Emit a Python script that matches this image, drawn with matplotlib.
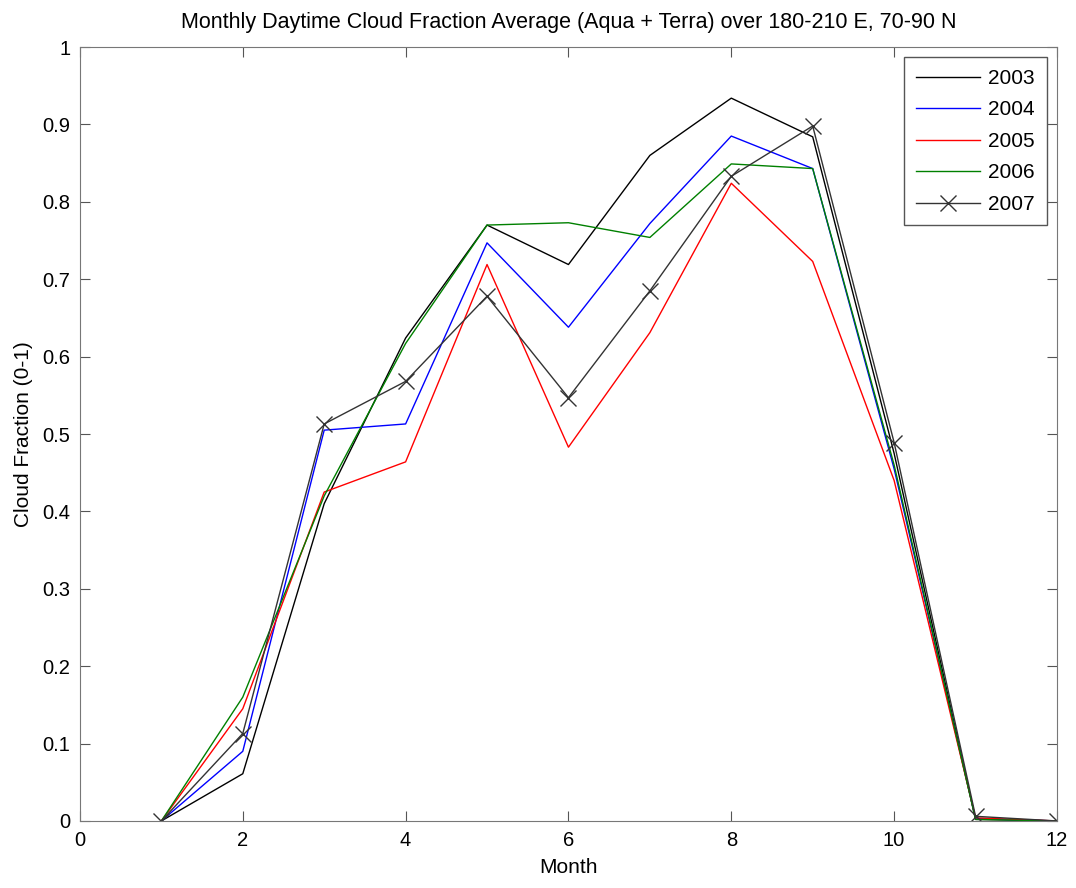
import matplotlib
matplotlib.use("Agg")
import matplotlib.pyplot as plt

plt.rcParams["font.family"] = ["Liberation Sans", "DejaVu Sans"]

# monthly cloud fraction
months = list(range(1, 13))
cf_2003 = [0.0, 0.061, 0.410, 0.624, 0.770, 0.719, 0.860, 0.934, 0.884, 0.475, 0.002, 0.0]
cf_2004 = [0.0, 0.090, 0.505, 0.513, 0.747, 0.638, 0.772, 0.885, 0.843, 0.455, 0.003, 0.0]
cf_2005 = [0.0, 0.145, 0.425, 0.464, 0.719, 0.483, 0.631, 0.824, 0.723, 0.440, 0.004, 0.0]
cf_2006 = [0.0, 0.160, 0.420, 0.617, 0.770, 0.773, 0.754, 0.849, 0.843, 0.460, 0.002, 0.0]
cf_2007 = [0.0, 0.113, 0.513, 0.568, 0.678, 0.547, 0.685, 0.833, 0.898, 0.489, 0.006, 0.0]

fig = plt.figure(figsize=(10.76, 8.88), dpi=100)
ax = fig.add_axes([0.0743, 0.0755, 0.9080, 0.8715])

ax.plot(months, cf_2003, color="black", lw=1.0, label="2003")
ax.plot(months, cf_2004, color="blue", lw=1.0, label="2004")
ax.plot(months, cf_2005, color="red", lw=1.0, label="2005")
ax.plot(months, cf_2006, color="#008000", lw=1.0, label="2006")
ax.plot(months, cf_2007, color="#333333", lw=1.0, marker="x", ms=11, mew=1.0, label="2007")

ax.set_xlim(0, 12)
ax.set_ylim(0, 1)
ax.set_xticks(range(0, 13, 2))
ax.set_yticks([i / 10 for i in range(11)])
ax.set_yticklabels(["0", "0.1", "0.2", "0.3", "0.4", "0.5", "0.6", "0.7", "0.8", "0.9", "1"])
ax.tick_params(direction="in", length=7, top=True, right=True, labelsize=14.5,
               color="#555555", pad=7)
for s in ax.spines.values():
    s.set_color("#777777")

ax.set_xlabel("Month", fontsize=15, labelpad=6)
ax.set_ylabel("Cloud Fraction (0-1)", fontsize=15, labelpad=7)
ax.set_title("Monthly Daytime Cloud Fraction Average (Aqua + Terra) over 180-210 E, 70-90 N",
             fontsize=15.5, pad=14)

leg = ax.legend(loc="upper right", fontsize=15, handlelength=3.1, handletextpad=0.4,
                fancybox=False, framealpha=1, edgecolor="#555555", borderaxespad=0.5,
                labelspacing=0.6, borderpad=0.55)
leg.get_frame().set_linewidth(1.0)

fig.savefig("out.png", dpi=100)
